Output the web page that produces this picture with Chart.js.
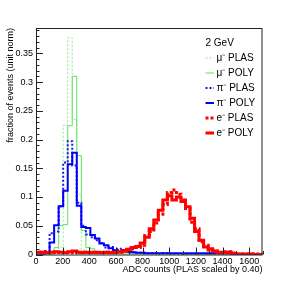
<!DOCTYPE html>
<html lang="en">
  <head>
    <title>ADC counts 2 GeV</title>
    <script src="https://cdn.jsdelivr.net/npm/chart.js"></script>
    <style>
      html, body { margin: 0; padding: 0; background: #fff; }
      #wrap { width: 292px; height: 283px; }
    </style>
  </head>
  <body>
    <div id="wrap"><canvas id="adcChart" width="292" height="283"></canvas></div>

    <script>
      // histogram binning: 50 bins from 0 to 1700
      const binWidth = 34;
      const nBins = 50;
      const xMax = 1700;
      const yMax = 0.394;

      const xTicks = [0, 200, 400, 600, 800, 1000, 1200, 1400, 1600];
      const yTicks = [0, 0.05, 0.1, 0.15, 0.2, 0.25, 0.3, 0.35];

      // values, one per bin
      const muPlas = [0, 0, 0, 0, 0.003, 0.013, 0.225, 0.377, 0.235, 0.105,
        0.008, 0.004, 0.002, 0.001, 0.001, 0.001, 0.001, 0.001, 0, 0,
        0, 0, 0, 0, 0, 0, 0, 0, 0, 0,
        0, 0, 0, 0, 0, 0, 0, 0, 0, 0,
        0, 0, 0, 0, 0, 0, 0, 0, 0, 0];
      const muPoly = [0, 0, 0, 0, 0.012, 0.05, 0.052, 0.224, 0.31, 0.172,
        0.042, 0.012, 0.01, 0.003, 0.002, 0.001, 0.001, 0.001, 0.001, 0.001,
        0.001, 0.001, 0.001, 0.001, 0.001, 0.001, 0.001, 0.001, 0.001, 0.001,
        0.001, 0.001, 0, 0, 0, 0, 0, 0, 0, 0,
        0, 0, 0, 0, 0, 0, 0, 0, 0, 0];
      const piPlas = [0, 0.002, 0.006, 0.037, 0.04, 0.084, 0.16, 0.197, 0.155, 0.09,
        0.05, 0.035, 0.03, 0.025, 0.02, 0.012, 0.013, 0.008, 0.01, 0.006,
        0.004, 0.004, 0.003, 0.003, 0.002, 0.002, 0.002, 0.001, 0.002, 0.001,
        0.001, 0.001, 0.001, 0.001, 0.001, 0.001, 0.001, 0.001, 0.001, 0.001,
        0.001, 0.001, 0.001, 0, 0, 0, 0, 0, 0, 0];
      const piPoly = [0, 0, 0.003, 0.021, 0.051, 0.084, 0.111, 0.157, 0.177, 0.085,
        0.048, 0.046, 0.034, 0.028, 0.019, 0.016, 0.011, 0.0075, 0.005, 0.008,
        0.005, 0.004, 0.003, 0.003, 0.002, 0.002, 0.002, 0.002, 0.002, 0.002,
        0.002, 0.002, 0.002, 0.002, 0.002, 0.002, 0.002, 0.002, 0.002, 0.002,
        0.002, 0.002, 0.002, 0.001, 0, 0, 0, 0, 0, 0];
      const ePlas = [0.003, 0.004, 0.003, 0.003, 0.004, 0.003, 0.004, 0.003, 0.005, 0.003,
        0.004, 0.003, 0.004, 0.003, 0.003, 0.004, 0.003, 0.004, 0.004, 0.006,
        0.008, 0.01, 0.012, 0.016, 0.033, 0.04, 0.055, 0.07, 0.087, 0.108,
        0.112, 0.105, 0.095, 0.08, 0.056, 0.045, 0.022, 0.016, 0.008, 0.006,
        0.003, 0.005, 0.005, 0.002, 0.001, 0.001, 0.001, 0.001, 0.001, 0.001];
      const ePoly = [0.004, 0.004, 0.003, 0.004, 0.005, 0.004, 0.003, 0.005, 0.006, 0.004,
        0.003, 0.004, 0.003, 0.004, 0.003, 0.004, 0.003, 0.004, 0.005, 0.006,
        0.009, 0.012, 0.014, 0.02, 0.03, 0.045, 0.06, 0.077, 0.095, 0.102,
        0.095, 0.1, 0.092, 0.083, 0.063, 0.04, 0.025, 0.013, 0.01, 0.006,
        0.004, 0.003, 0.004, 0.002, 0.001, 0.001, 0.001, 0.001, 0, 0];

      // turn bin contents into step points at the bin edges
      function toSteps(values) {
        const pts = [{ x: 0, y: 0 }];
        for (let i = 0; i < nBins; i++) {
          pts.push({ x: (i + 1) * binWidth, y: values[i] });
        }
        return pts;
      }

      function hist(label, values, color, width, dash, order) {
        return {
          label: label,
          data: toSteps(values),
          borderColor: color,
          borderWidth: width,
          borderDash: dash,
          // vertical at the left edge, then flat across the bin
          stepped: "after",
          pointRadius: 0,
          fill: false,
          order: order,
        };
      }

      // ROOT-like frame with inward ticks
      const rootFrame = {
        id: "rootFrame",
        afterDraw(chart) {
          const { ctx, chartArea: a } = chart;
          const x = chart.scales.x;
          const y = chart.scales.y;
          ctx.save();
          ctx.strokeStyle = "#222";
          ctx.lineWidth = 1;
          ctx.setLineDash([]);
          ctx.strokeRect(a.left + 0.5, a.top + 0.5, a.right - a.left - 1, a.bottom - a.top);
          ctx.beginPath();
          for (let k = 0; k * 0.01 <= yMax; k++) {
            const py = Math.round(y.getPixelForValue(k * 0.01)) + 0.5;
            const len = k % 5 === 0 ? 7 : 3.5;
            ctx.moveTo(a.left, py);
            ctx.lineTo(a.left + len, py);
          }
          for (let k = 0; k * 100 <= xMax; k++) {
            const px = Math.round(x.getPixelForValue(k * 100)) + 0.5;
            const len = k % 2 === 0 ? 7 : 3.5;
            ctx.moveTo(px, a.bottom);
            ctx.lineTo(px, a.bottom - len);
          }
          ctx.stroke();
          ctx.restore();
        },
      };

      // legend drawn inside the frame, top right
      const rootLegend = {
        id: "rootLegend",
        afterDraw(chart) {
          const ctx = chart.ctx;
          const x0 = 205.5;
          const y0 = 43;
          ctx.save();
          ctx.fillStyle = "#000";
          ctx.font = "10px 'Liberation Sans', Arial, sans-serif";
          ctx.textBaseline = "middle";
          ctx.textAlign = "left";
          ctx.fillText("2 GeV", x0, y0);
          chart.data.datasets.forEach((ds, i) => {
            const yy = y0 + 15 * (i + 1);
            ctx.beginPath();
            ctx.strokeStyle = ds.borderColor;
            ctx.lineWidth = ds.borderWidth;
            ctx.setLineDash(ds.borderDash);
            ctx.moveTo(x0, yy);
            ctx.lineTo(x0 + 8.5, yy);
            ctx.stroke();
            ctx.fillText(ds.label, x0 + 11, yy);
          });
          ctx.restore();
        },
      };

      const tickFont = { family: "'Liberation Sans', Arial, sans-serif", size: 9 };

      const ctx = document.getElementById("adcChart").getContext("2d");
      const chart = new Chart(ctx, {
        type: "line",
        data: {
          datasets: [
            hist("\u03bc\u207b PLAS", muPlas, "#8ee88e", 1, [2, 2], 5),
            hist("\u03bc\u207b POLY", muPoly, "#5fe05f", 1, [], 4),
            hist("\u03c0\u207b PLAS", piPlas, "#1a1aee", 2, [2, 2], 3),
            hist("\u03c0\u207b POLY", piPoly, "#0000ff", 2, [], 2),
            hist("e\u207b PLAS", ePlas, "#ff0000", 3, [3, 2], 1),
            hist("e\u207b POLY", ePoly, "#ff0000", 3, [], 0),
          ],
        },
        options: {
          responsive: false,
          animation: false,
          layout: { padding: { left: 0, top: 28, right: 29.5, bottom: 0 } },
          plugins: {
            legend: { display: false },
            tooltip: { enabled: false },
          },
          scales: {
            x: {
              type: "linear",
              min: 0,
              max: xMax,
              afterFit: (scale) => { scale.height = 28.5; },
              afterBuildTicks: (scale) => {
                scale.ticks = xTicks.map((v) => ({ value: v }));
              },
              grid: { display: false, drawTicks: false },
              border: { display: false },
              ticks: {
                autoSkip: false,
                maxRotation: 0,
                padding: 2,
                color: "#000",
                font: tickFont,
                callback: (v) => String(v),
              },
              title: {
                display: true,
                text: "ADC counts (PLAS scaled by 0.40)",
                align: "end",
                color: "#000",
                font: tickFont,
                padding: { top: 0, bottom: 8 },
              },
            },
            y: {
              type: "linear",
              min: 0,
              max: yMax,
              afterFit: (scale) => { scale.width = 36; },
              afterBuildTicks: (scale) => {
                scale.ticks = yTicks.map((v) => ({ value: v }));
              },
              grid: { display: false, drawTicks: false },
              border: { display: false },
              ticks: {
                padding: 3,
                color: "#000",
                font: tickFont,
                callback: (v) => String(+v.toFixed(2)),
              },
              title: {
                display: true,
                text: "fraction of events (unit norm)",
                align: "end",
                color: "#000",
                font: tickFont,
                padding: { top: 5, bottom: 0 },
              },
            },
          },
        },
        plugins: [rootFrame, rootLegend],
      });
    </script>
  </body>
</html>
